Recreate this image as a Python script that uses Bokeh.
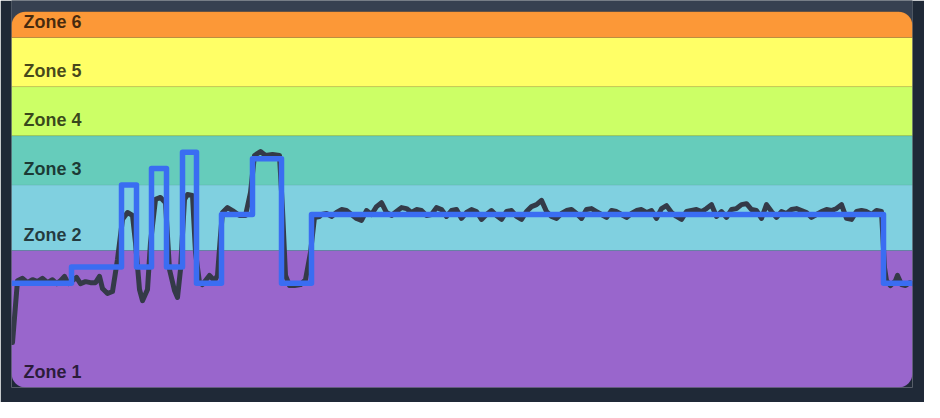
from bokeh.plotting import figure
from bokeh.models import Range1d, BoxAnnotation
from bokeh.core.properties import value
from bokeh.embed import file_html
from bokeh.resources import INLINE

# Zones (% of FTP)
zone_names = ["Zone 1", "Zone 2", "Zone 3", "Zone 4", "Zone 5", "Zone 6"]
zone_lower = [None, 55, 75, 90, 105, 120]
zone_upper = [55, 75, 90, 105, 120, 127.9]
zone_colors = ["#9966cc", "#80d0e0", "#66ccbb", "#ccff66", "#ffff66", "#fc9837"]

# Target steps (minutes, % FTP)
target_start = [0, 6.0, 11.0, 12.5, 14.0, 15.5, 17.1, 18.5, 21.0, 24.1, 27.0, 30.0, 87.2]
target_value = [45, 50, 75, 50, 80, 50, 85, 45, 66, 83, 45, 66, 45]
end_time = 90.1

# Actual power (minutes, % FTP)
power_t = [0.1, 0.6, 1.1, 1.6, 2.1, 2.6, 3.1, 3.6, 4.1, 4.5, 4.9, 5.3, 5.7, 6.1, 6.5, 6.9,
           7.4, 7.9, 8.4, 8.8, 9.1, 9.6, 10.1, 10.4, 10.6, 11.1, 11.6, 12.1, 12.4, 12.8, 13.1,
           13.6, 13.9, 14.4, 14.9, 15.4, 15.8, 16.3, 16.6, 16.9, 17.3, 17.6, 18.1, 18.4, 18.8,
           19.1, 19.8, 20.3, 20.6, 20.9, 21.1, 21.6, 22.1, 22.8, 23.4, 23.9, 24.3, 24.9, 25.4,
           26.1, 26.8, 27.1, 27.4, 27.8, 28.3, 28.9, 29.4, 29.9, 30.3, 30.8,
           31.0, 31.5, 32.0, 32.5, 33.0, 33.5, 34.0, 34.5, 35.0, 35.5, 36.0, 36.5, 37.0, 37.5,
           38.0, 38.5, 39.0, 39.5, 40.0, 40.5, 41.0, 41.5, 42.0, 42.5, 43.0, 43.5, 44.0, 44.5,
           45.0, 45.5, 46.0, 46.5, 47.0, 47.5, 48.0, 48.5, 49.0, 49.5, 50.0, 50.5, 51.0, 51.5,
           52.0, 52.5, 53.0, 53.5, 54.0, 54.5, 55.0, 55.5, 56.0, 56.5, 57.0, 57.5, 58.0, 58.5,
           59.0, 59.5, 60.0, 60.5, 61.0, 61.5, 62.0, 62.5, 63.0, 63.5, 64.0, 64.5, 65.0, 65.5,
           66.0, 66.5, 67.0, 67.5, 68.0, 68.5, 69.0, 69.5, 70.0, 70.5, 71.0, 71.5, 72.0, 72.5,
           73.0, 73.5, 74.0, 74.5, 75.0, 75.5, 76.0, 76.5, 77.0, 77.5, 78.0, 78.5, 79.0, 79.5,
           80.0, 80.5, 81.0, 81.5, 82.0, 82.5, 83.0, 83.5, 84.0, 84.5, 85.0, 85.5, 86.0, 86.5,
           87.0, 87.3, 87.5, 87.9, 88.4, 88.6, 89.0, 89.4, 89.8, 90.1]
power_v = [26.9, 45.8, 46.5, 45.2, 46.1, 45.5, 46.5, 45.2, 46.1, 44.9, 45.8, 47.1, 44.9, 45.8,
           46.8, 44.9, 45.5, 45.2, 45.2, 47.1, 43.4, 41.9, 42.5, 48.3, 52.3, 64.5, 66.6, 65.7,
           57.4, 43.1, 39.7, 43.1, 57.4, 70.6, 71.2, 69.6, 49.2, 42.8, 40.7, 49.2, 70.6, 72.1,
           71.8, 54.4, 45.2, 44.6, 47.4, 45.8, 47.4, 59.6, 66.6, 68.1, 67.2, 65.7, 65.7, 72.7,
           84.0, 85.2, 84.0, 84.3, 84.0, 67.5, 47.4, 44.3, 44.3, 44.6, 46.1, 54.4, 65.1, 65.4,
           66.0, 66.3, 65.4, 66.6, 67.5, 67.2, 66.0, 64.8, 64.2, 67.2, 66.0, 68.4, 69.6, 66.6,
           65.7, 66.9, 68.1, 67.8, 66.6, 67.5, 67.2, 65.7, 66.0, 68.1, 67.5, 65.4, 67.2, 67.5,
           64.8, 66.6, 67.5, 66.9, 64.5, 66.0, 67.2, 65.7, 64.5, 66.9, 67.2, 65.4, 64.5, 66.9,
           68.4, 69.0, 70.3, 66.9, 65.4, 64.8, 66.3, 67.2, 67.5, 66.3, 64.8, 67.5, 67.8, 66.9,
           66.0, 65.1, 67.2, 66.9, 66.0, 65.1, 66.3, 67.2, 67.5, 66.6, 67.2, 64.8, 67.8, 68.7,
           66.6, 65.4, 64.5, 66.9, 67.2, 67.5, 66.9, 67.8, 69.0, 65.4, 66.9, 65.1, 67.5, 67.8,
           69.0, 69.3, 67.5, 67.2, 64.8, 69.0, 66.9, 65.1, 66.9, 66.3, 67.5, 67.8, 67.2, 66.6,
           65.1, 66.0, 66.9, 67.5, 67.2, 67.8, 69.0, 64.8, 64.5, 66.9, 67.2, 66.9, 66.0, 67.2,
           66.9, 49.8, 45.8, 44.3, 45.8, 47.4, 44.6, 44.3, 45.2, 44.9]

y_min = 13.2
y_max = 131.3

p = figure(width=924, height=402, output_backend="svg", toolbar_location=None,
           x_range=Range1d(0, end_time), y_range=Range1d(y_min, y_max),
           min_border_left=11, min_border_right=12, min_border_top=0, min_border_bottom=15)
p.background_fill_color = "#1f2937"
p.border_fill_color = "#1f2937"
p.outline_line_color = None
p.axis.visible = False
p.grid.visible = False

# lighter header strip behind the top of the panel
p.add_layout(BoxAnnotation(bottom=zone_lower[-1], fill_color="#374151", fill_alpha=1,
                           line_color=None, level="underlay"))

for i, (lo, hi, col) in enumerate(zip(zone_lower, zone_upper, zone_colors)):
    if i == 0:
        radius = dict(top_left=0, top_right=0, bottom_right=14, bottom_left=14)
    elif i == len(zone_names) - 1:
        radius = dict(top_left=14, top_right=14, bottom_right=0, bottom_left=0)
    else:
        radius = 0
    p.add_layout(BoxAnnotation(bottom=lo, top=hi, fill_color=col, fill_alpha=1,
                               line_color="#000000", line_alpha=0.05, line_width=1,
                               border_radius=radius, level="underlay"))

label_y = [y_min] + zone_lower[1:]
p.text(x=[0] * len(zone_names), y=label_y, text=zone_names, x_offset=12, y_offset=-16,
       text_baseline="middle", text_align="left", text_font=value("Liberation Sans"),
       text_font_style="bold", text_font_size="18px", text_color="#000000", text_alpha=0.72)

p.line(power_t, power_v, line_color="#343a48", line_width=5, line_join="round",
       line_cap="round")

step_x = target_start + [end_time]
step_y = target_value + [target_value[-1]]
p.step(step_x, step_y, mode="after", line_color="#3a6df2", line_width=5.5,
       line_join="round")

open("out.html", "w").write(file_html(p, INLINE))
